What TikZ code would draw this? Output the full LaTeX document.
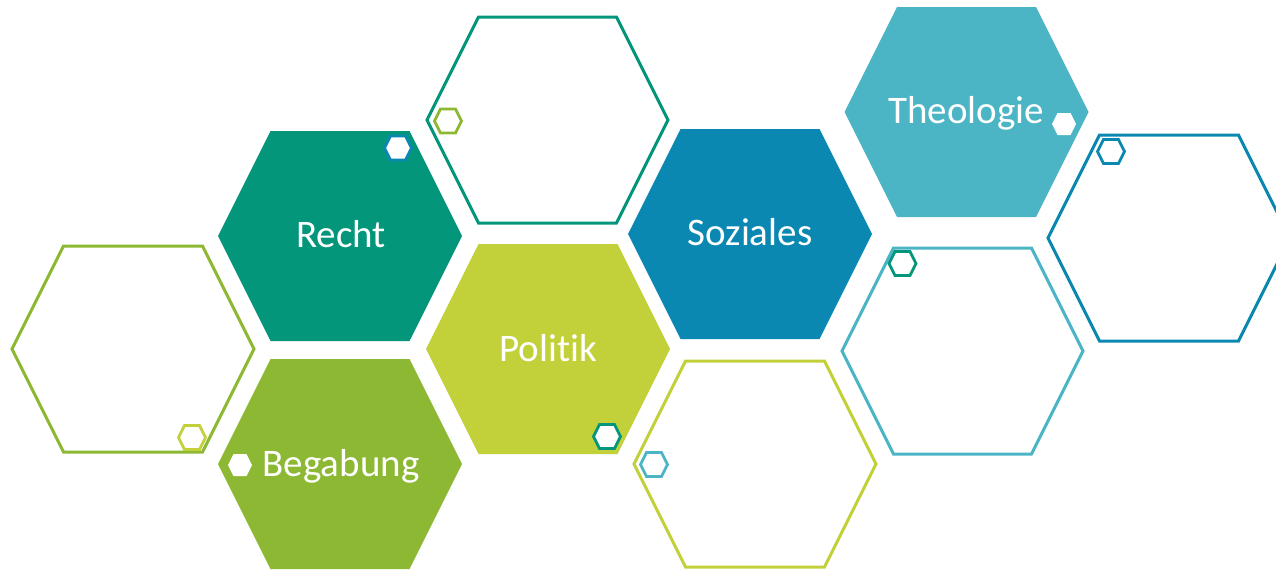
\documentclass[tikz,border=0pt]{standalone}
\usepackage{fontspec}
\setmainfont{Carlito}[Ligatures=NoCommon]
\definecolor{tealgreen}{HTML}{03967A}
\definecolor{leafgreen}{HTML}{8CB833}
\definecolor{limegreen}{HTML}{C2D13A}
\definecolor{seablue}{HTML}{0B88B2}
\definecolor{skyblue}{HTML}{4BB5C5}
\tikzset{
	hexfill/.style={fill=#1, draw=none},
	hexline/.style={draw=#1, line width=3pt, line join=miter},
	dotline/.style={draw=#1, fill=white, line width=2.8pt, line join=miter},
	dotfill/.style={fill=white, draw=none},
	hexlabel/.style={text=white, inner sep=0pt, anchor=base, font=\fontsize{39}{47}\selectfont}
}
% centre x, centre y, half width, half height
\newcommand{\hexshape}[4]{({#1-#3},{#2}) -- ({#1-#3+0.5*#4},{#2-#4}) -- ({#1+#3-0.5*#4},{#2-#4}) -- ({#1+#3},{#2}) -- ({#1+#3-0.5*#4},{#2+#4}) -- ({#1-#3+0.5*#4},{#2+#4}) -- cycle}

\begin{document}
\begin{tikzpicture}[x=1pt, y=-1pt]
		\useasboundingbox (0,0) rectangle (1276,571);
		\clip (0,0) rectangle (1276,571);
		
		% filled hexagons
		\path[hexfill=tealgreen] \hexshape{340}{236}{122}{105};
		\path[hexfill=leafgreen] \hexshape{340}{464}{122}{105};
		\path[hexfill=limegreen] \hexshape{548}{349}{122}{105};
		\path[hexfill=seablue] \hexshape{750}{234}{122}{105};
		\path[hexfill=skyblue] \hexshape{966.5}{112}{122}{105};
		
		% outlined hexagons
		\draw[hexline=leafgreen] \hexshape{133}{349}{121}{103};
		\draw[hexline=tealgreen] \hexshape{547.5}{120}{120.5}{103};
		\draw[hexline=limegreen] \hexshape{755}{464}{121}{103};
		\draw[hexline=skyblue] \hexshape{962.5}{351}{120.5}{103};
		\draw[hexline=seablue] \hexshape{1169}{238}{121}{103};
		
		% small hexagons
		\draw[dotline=limegreen] \hexshape{192}{437.5}{13.5}{12};
		\draw[dotline=seablue] \hexshape{398}{148}{13.5}{12};
		\draw[dotline=leafgreen] \hexshape{448}{121}{13.5}{12};
		\draw[dotline=tealgreen] \hexshape{607}{436.5}{13.5}{12};
		\draw[dotline=skyblue] \hexshape{654}{464.5}{13.5}{12};
		\draw[dotline=tealgreen] \hexshape{902.5}{263.5}{13.5}{12};
		\draw[dotline=seablue] \hexshape{1111}{151.5}{13.5}{12};
		\path[dotfill] \hexshape{240}{465}{12}{11};
		\path[dotfill] \hexshape{1064}{124}{12}{11};
		
		% labels
		\node[hexlabel] (recht) at (341,247) {Recht};
		\node[hexlabel] (begabung) at (341,476) {Begabung};
		\node[hexlabel] (politik) at (548,361) {Politik};
		\node[hexlabel] (soziales) at (750,245) {Soziales};
		\node[hexlabel] (theologie) at (966,123) {Theologie};
	\end{tikzpicture}
\end{document}
